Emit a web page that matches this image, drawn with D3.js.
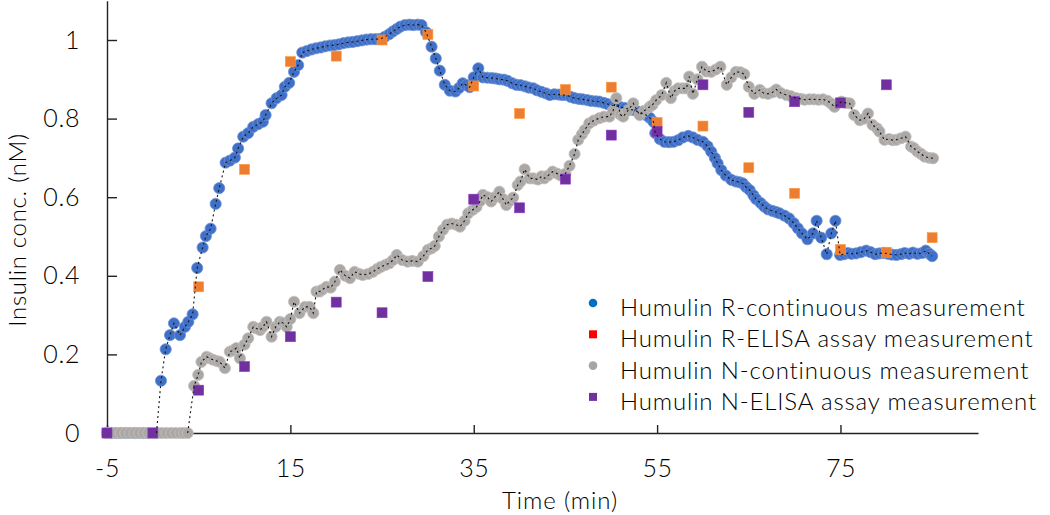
<!DOCTYPE html>
<html>
<head>
<meta charset="utf-8">
<script src="https://cdn.jsdelivr.net/npm/d3@7"></script>
<style>
  body { margin: 0; background: #fff; }
  svg { display: block; font-family: Lato, "Noto Sans", sans-serif; font-weight: 300; }
</style>
</head>
<body>
<svg id="chart" width="1050" height="515"></svg>
<script>
// ELISA samples every 5 min
const elisaTimes = [-5, 0, 5, 10, 15, 20, 25, 30, 35, 40, 45, 50, 55, 60, 65, 70, 75, 80, 85];
const elisaR = [0, 0, 0.372, 0.671, 0.945, 0.959, 1.0, 1.014, 0.883, 0.813, 0.874, 0.88, 0.79, 0.781, 0.675, 0.61, 0.467, 0.46, 0.497];
const elisaN = [0, 0, 0.109, 0.169, 0.245, 0.333, 0.306, 0.398, 0.595, 0.573, 0.646, 0.758, 0.767, 0.886, 0.816, 0.843, 0.84, 0.886, null];

// continuous measurement, Humulin R  [time, nM]
const continuousR = [
  [-5,0],[-4.5,0],[-4,0],[-3.5,0],[-3,0],[-2.5,0],[-2,0],[-1.5,0],[-1,0],[-0.5,0],[0,0],[0.4,0],
  [0.89,0.133],[1.4,0.213],[1.87,0.249],[2.3,0.279],[2.96,0.249],[3.5,0.27],[3.87,0.283],[4.34,0.302],
  [4.84,0.42],[5.43,0.472],[5.79,0.501],[6.3,0.52],[6.85,0.583],[7.24,0.623],[7.94,0.688],[8.4,0.693],
  [8.95,0.701],[9.3,0.724],[9.86,0.754],[10.4,0.763],[10.95,0.779],[11.5,0.786],[12.0,0.792],[12.3,0.809],
  [12.95,0.839],[13.5,0.852],[14.04,0.86],[14.4,0.881],[14.87,0.891],[15.4,0.919],[15.85,0.936],[16.3,0.968],
  [16.8,0.972],[17.3,0.976],[17.8,0.979],[18.3,0.981],[18.8,0.984],[19.3,0.986],[19.8,0.987],[20.3,0.989],
  [20.8,0.992],[21.3,0.994],[21.8,0.995],[22.3,0.997],[22.8,0.999],[23.3,1.001],[23.8,1.002],[24.3,1.002],
  [24.8,1.003],[25.3,1.008],[25.8,1.015],[26.2,1.022],[26.6,1.028],[27.0,1.034],[27.5,1.038],[28.0,1.039],
  [28.4,1.038],[28.9,1.039],[29.3,1.038],[29.8,1.02],[30.4,0.983],[30.86,0.953],[31.3,0.922],[31.84,0.886],
  [32.4,0.871],[33.0,0.869],[33.4,0.878],[33.8,0.89],[34.2,0.885],[34.56,0.88],[35.0,0.905],[35.5,0.928],
  [36.0,0.905],[36.5,0.904],[37.0,0.903],[37.4,0.902],[37.8,0.9],[38.3,0.899],[38.7,0.896],[39.2,0.89],
  [39.65,0.886],[40.1,0.885],[40.6,0.882],[41.0,0.879],[41.5,0.877],[41.9,0.872],[42.4,0.868],[42.9,0.864],
  [43.3,0.86],[43.8,0.862],[44.3,0.861],[44.7,0.86],[45.1,0.86],[45.6,0.855],[46.0,0.852],[46.5,0.85],
  [46.9,0.849],[47.4,0.847],[47.8,0.845],[48.3,0.844],[48.7,0.843],[49.2,0.84],[49.6,0.837],[50.1,0.834],
  [50.55,0.832],[51.0,0.829],[51.5,0.827],[51.9,0.824],[52.4,0.822],[52.9,0.818],[53.3,0.814],[53.8,0.809],
  [54.2,0.802],[54.6,0.792],[54.8,0.763],[55.3,0.748],[55.8,0.741],[56.3,0.74],[56.8,0.741],[57.3,0.745],
  [57.8,0.752],[58.4,0.756],[58.9,0.752],[59.4,0.746],[60.0,0.741],[60.5,0.73],[60.9,0.716],[61.3,0.7],
  [61.6,0.686],[62.0,0.669],[62.5,0.655],[63.1,0.644],[63.6,0.64],[64.0,0.638],[64.35,0.635],[64.7,0.626],
  [65.1,0.618],[65.5,0.605],[65.8,0.595],[66.3,0.585],[66.7,0.576],[67.1,0.569],[67.6,0.565],[68.0,0.562],
  [68.35,0.559],[68.9,0.553],[69.4,0.546],[69.9,0.534],[70.35,0.521],[70.8,0.508],[71.4,0.493],[72.0,0.508],
  [72.4,0.54],[72.9,0.497],[73.5,0.455],[74.0,0.508],[74.45,0.54],[74.96,0.453],[75.4,0.455],[75.8,0.458],
  [76.2,0.456],[76.7,0.457],[77.2,0.46],[77.8,0.464],[78.3,0.46],[78.8,0.455],[79.25,0.457],[79.7,0.458],
  [80.2,0.456],[80.6,0.454],[81.1,0.453],[81.6,0.455],[82.0,0.458],[82.5,0.456],[82.9,0.459],[83.4,0.456],
  [83.9,0.458],[84.3,0.464],[84.7,0.456],[85.0,0.45]
];

// continuous measurement, Humulin N  [time, nM]
const continuousN = [
  [-5,0],[-4.5,0],[-4,0],[-3.5,0],[-3,0],[-2.5,0],[-2,0],[-1.5,0],[-1,0],[-0.5,0],[0,0],[0.5,0],
  [1,0],[1.5,0],[2,0],[2.5,0],[3,0],[3.4,0],[3.8,0],
  [4.5,0.12],[4.95,0.148],[5.3,0.181],[5.87,0.194],[6.2,0.19],[6.6,0.186],[7.0,0.183],[7.3,0.181],
  [7.86,0.165],[8.4,0.207],[8.75,0.21],[9.1,0.216],[9.5,0.19],[10.0,0.225],[10.4,0.241],[10.95,0.27],
  [11.3,0.266],[11.7,0.262],[12.0,0.27],[12.4,0.283],[12.95,0.245],[13.4,0.27],[13.85,0.283],[14.2,0.28],
  [14.6,0.27],[15.0,0.29],[15.4,0.334],[16.0,0.305],[16.6,0.321],[17.1,0.321],[17.5,0.305],[17.85,0.36],
  [18.2,0.36],[18.5,0.365],[18.95,0.372],[19.4,0.37],[19.85,0.385],[20.4,0.415],[21.0,0.4],[21.5,0.394],
  [22.0,0.41],[22.5,0.405],[22.9,0.402],[23.5,0.405],[24.0,0.41],[24.5,0.418],[24.9,0.423],[25.4,0.428],
  [25.8,0.432],[26.2,0.44],[26.6,0.453],[27.2,0.44],[27.8,0.436],[28.3,0.438],[28.9,0.436],[29.5,0.45],
  [30.0,0.466],[30.4,0.47],[30.75,0.476],[31.2,0.5],[31.65,0.517],[32.1,0.53],[32.6,0.533],[33.1,0.53],
  [33.5,0.525],[34.0,0.54],[34.4,0.559],[34.9,0.568],[35.3,0.575],[35.7,0.59],[36.0,0.606],[36.5,0.6],
  [36.9,0.589],[37.3,0.6],[37.8,0.614],[38.2,0.595],[38.55,0.58],[38.9,0.59],[39.3,0.599],[39.8,0.631],
  [40.1,0.64],[40.55,0.671],[41.1,0.648],[41.5,0.648],[42.0,0.645],[42.4,0.653],[42.7,0.648],[43.1,0.655],
  [43.6,0.665],[44.1,0.66],[44.5,0.655],[45.0,0.66],[45.45,0.68],[46.0,0.71],[46.4,0.746],[46.8,0.76],
  [47.1,0.771],[47.6,0.788],[48.1,0.795],[48.7,0.801],[49.2,0.805],[49.8,0.805],[50.2,0.82],[50.55,0.852],
  [51.0,0.81],[51.3,0.805],[51.8,0.82],[52.4,0.839],[53.1,0.809],[53.6,0.82],[54.2,0.83],[54.5,0.835],
  [54.9,0.847],[55.5,0.86],[56.0,0.891],[56.5,0.852],[56.9,0.87],[57.3,0.877],[57.8,0.877],[58.2,0.877],
  [58.5,0.907],[58.9,0.863],[59.4,0.9],[59.9,0.932],[60.4,0.92],[60.9,0.919],[61.4,0.925],[61.9,0.932],
  [62.6,0.886],[63.1,0.905],[63.6,0.919],[64.1,0.918],[64.5,0.913],[65.0,0.881],[65.6,0.863],[66.2,0.873],
  [66.6,0.865],[67.1,0.863],[67.6,0.867],[68.0,0.874],[68.5,0.865],[69.1,0.86],[69.6,0.857],[70.2,0.852],
  [70.7,0.85],[71.1,0.848],[71.6,0.849],[72.1,0.849],[72.6,0.848],[73.1,0.849],[73.6,0.845],[74.0,0.838],
  [74.35,0.83],[75.1,0.843],[75.6,0.84],[76.0,0.839],[76.5,0.809],[77.1,0.796],[77.6,0.8],[78.0,0.813],
  [78.5,0.784],[79.0,0.775],[79.25,0.767],[79.8,0.746],[80.3,0.748],[80.7,0.745],[81.1,0.746],[81.6,0.75],
  [82.1,0.754],[82.7,0.729],[83.0,0.725],[83.4,0.716],[83.8,0.71],[84.2,0.703],[84.7,0.7],[85.1,0.699]
];

const xTicks = [-5, 15, 35, 55, 75];
const yTicks = [0, 0.2, 0.4, 0.6, 0.8, 1];
const legendLabels = [
  "Humulin R-continuous measurement",
  "Humulin R-ELISA assay measurement",
  "Humulin N-continuous measurement",
  "Humulin N-ELISA assay measurement"
];

const svg = d3.select("#chart");
const x = d3.scaleLinear().domain([-5, 90]).range([107, 978]);
const y = d3.scaleLinear().domain([0, 1.1]).range([433, 0.7]);

// axes, ticks point inward like the Excel original
const yAxis = svg.append("g")
  .attr("transform", "translate(107,0)")
  .call(d3.axisLeft(y).tickValues(yTicks).tickFormat(d => d3.format("~g")(d))
    .tickSize(-10).tickSizeOuter(0).tickPadding(27));
const xAxis = svg.append("g")
  .attr("transform", "translate(0,433)")
  .call(d3.axisBottom(x).tickValues(xTicks).tickFormat(d => d < 0 ? "-" + Math.abs(d) : d)
    .tickSize(-8).tickSizeOuter(0).tickPadding(27));
[xAxis, yAxis].forEach(g => {
  g.select(".domain").attr("stroke", "#222").attr("stroke-width", 1.4);
  g.selectAll(".tick line").attr("stroke", "#222").attr("stroke-width", 1.4);
  g.selectAll("text").attr("font-size", 25).attr("fill", "#000")
    .attr("font-family", "Lato, sans-serif").attr("font-weight", 300).attr("letter-spacing", 0.6);
});
yAxis.select(".tick line").remove(); // 0 sits on the x axis
xAxis.selectAll("text").attr("dy", "0.68em");

svg.append("text")
  .attr("transform", "translate(26,230) rotate(-90)")
  .attr("text-anchor", "middle")
  .attr("font-size", 24).attr("letter-spacing", 0.7).attr("fill", "#000")
  .text("Insulin conc. (nM)");
svg.append("text")
  .attr("x", 560).attr("y", 509)
  .attr("text-anchor", "middle")
  .attr("font-size", 24).attr("letter-spacing", 0.9).attr("fill", "#000")
  .text("Time (min)");

const dotted = d3.line().x(d => x(d[0])).y(d => y(d[1]));
const elisaRPts = elisaTimes.map((t, i) => [t, elisaR[i]]).filter(d => d[1] != null);
const elisaNPts = elisaTimes.map((t, i) => [t, elisaN[i]]).filter(d => d[1] != null);

function circles(data, fill, edge) {
  svg.append("g").selectAll("circle").data(data).join("circle")
    .attr("cx", d => x(d[0])).attr("cy", d => y(d[1])).attr("r", 5.6)
    .attr("fill", fill).attr("stroke", edge).attr("stroke-width", 0.8);
}
function squares(data, fill) {
  svg.append("g").selectAll("rect").data(data).join("rect")
    .attr("x", d => x(d[0]) - 5).attr("y", d => y(d[1]) - 5)
    .attr("width", 10).attr("height", 10)
    .attr("fill", fill).attr("stroke", d3.color(fill).brighter(0.6)).attr("stroke-width", 0.6);
}
function dots(data) {
  svg.append("path").datum(data).attr("d", dotted)
    .attr("fill", "none").attr("stroke", "#111").attr("stroke-width", 1.1)
    .attr("stroke-dasharray", "2,3");
}

circles(continuousR, "#3f6fc6", "#6f93d6");
squares(elisaRPts, "#ed7d31");
circles(continuousN, "#aaa7a5", "#c4c2c0");
squares(elisaNPts, "#7030a0");
dots(continuousR.slice(11));
dots(continuousN.slice(18));

// legend
const legendColors = ["#0070c0", "#ff0000", "#a5a5a5", "#7030a0"];
const legend = svg.append("g");
legendLabels.forEach((label, i) => {
  const cy = 305 + i * 31.3;
  if (i % 2 === 0) {
    legend.append("circle").attr("cx", 593).attr("cy", cy - 2).attr("r", 4.3).attr("fill", legendColors[i]);
  } else {
    legend.append("rect").attr("x", 589).attr("y", cy - 6).attr("width", 8).attr("height", 8).attr("fill", legendColors[i]);
  }
  legend.append("text").attr("x", 620).attr("y", cy + 11)
    .attr("font-size", 24).attr("letter-spacing", 0.85).attr("fill", "#000").text(label);
});
</script>
</body>
</html>
